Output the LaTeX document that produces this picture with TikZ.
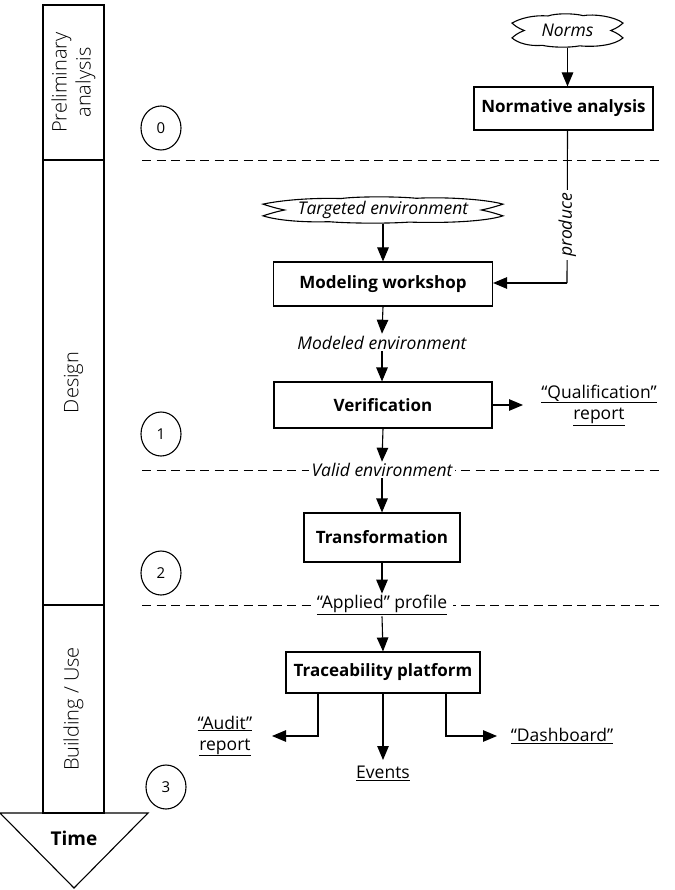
\documentclass[tikz,border=0pt]{standalone}
\usepackage{fontspec}
\setmainfont{Open Sans}
\newfontfamily\colfont{Open Sans Light}
\usetikzlibrary{shapes.geometric,arrows.meta,calc}
\newcommand\cloudoutline[4]{%
  \draw[shift={(#1)},xscale=#2,yscale=#3]
    (-#4,0) .. controls (-0.9,-0.15) and (-0.96,-0.33) .. (-1,-0.45)
    .. controls (-0.85,-0.75) and (-0.6,-0.95) .. (-0.35,-0.88)
    .. controls (-0.22,-1.05) and (0.12,-1.05) .. (0.28,-0.9)
    .. controls (0.48,-1.02) and (0.85,-0.85) .. (1,-0.45)
    .. controls (0.96,-0.33) and (0.9,-0.15) .. (#4,0)
    .. controls (0.9,0.15) and (0.96,0.33) .. (1,0.45)
    .. controls (0.85,0.9) and (0.5,1.02) .. (0.22,0.93)
    .. controls (0.02,1.06) and (-0.3,1.02) .. (-0.45,0.9)
    .. controls (-0.7,0.97) and (-0.9,0.75) .. (-1,0.45)
    .. controls (-0.96,0.33) and (-0.9,0.15) .. (-#4,0) -- cycle;}
\begin{document}
\begin{tikzpicture}[x=1pt,y=-1pt,
  line width=1.1pt,
  txt/.style={font=\fontsize{17.5}{21}\selectfont, align=center, inner sep=1pt},
  itx/.style={font=\fontsize{17.5}{21}\selectfont\itshape, align=center, inner sep=1pt},
  box/.style={draw, font=\fontsize{17}{20}\selectfont\bfseries, inner sep=0pt},
  arr/.style={-{Triangle[length=14pt,width=11.5pt]}},
  phase/.style={draw, minimum width=61pt, inner sep=0pt},
  phasetxt/.style={font=\colfont\fontsize{20}{24}\selectfont, align=center, rotate=90},
  num/.style={draw, ellipse, minimum width=40pt, minimum height=44pt, inner sep=0pt, font=\fontsize{15}{17}\selectfont},
  sep/.style={dash pattern=on 9pt off 5.5pt, line width=0.9pt},
  cloudtxt/.style={inner sep=0pt, font=\fontsize{17.5}{21}\selectfont\itshape}
]
\useasboundingbox (0,0) rectangle (674,890);

% ---- phase column ----
\node[phase, minimum height=155pt] (p0) at (73.5,82.5) {};
\node[phase, minimum height=445pt] (p1) at (73.5,382.5) {};
\node[phase, minimum height=208pt] (p2) at (73.5,709) {};
\node[phasetxt] (p0t) at (p0.center) {Preliminary\\analysis};
\node[phasetxt] (p1t) at (p1.center) {Design};
\node[phasetxt] (p2t) at (p2.center) {Building / Use};
\draw (0,813) -- (148,813) -- (74,888) -- cycle;
\node[font=\fontsize{19}{22}\selectfont\bfseries] (time) at (74,838) {Time};

% ---- step numbers ----
\node[num] (n0) at (161,128) {0};
\node[num] (n1) at (161,434) {1};
\node[num] (n2) at (161,573) {2};
\node[num] (n3) at (166,787) {3};

% ---- separators ----
\coordinate (s1a) at (142,160); \coordinate (s1b) at (660,160);
\coordinate (s2a) at (142,470); \coordinate (s2b) at (660,470);
\coordinate (s3a) at (142,605); \coordinate (s3b) at (660,605);
\draw[sep] (s1a) -- (s1b);
\draw[sep] (s2a) -- (s2b);
\draw[sep] (s3a) -- (s3b);

% ---- nodes ----
\node[cloudtxt, minimum width=111pt, minimum height=33pt] (norms) at (567.5,30.5) {Norms};
\cloudoutline{norms.center}{55.5}{16.5}{0.78}
\node[box, minimum width=179pt, minimum height=43pt] (na) at (563.5,108.5) {Normative analysis};
\node[cloudtxt, minimum width=240pt, minimum height=26pt] (te) at (383,210) {Targeted environment};
\cloudoutline{te.center}{120}{13}{0.82}
\node[box, minimum width=219pt, minimum height=44pt] (mw) at (383,284) {Modeling workshop};
\node[itx] (me) at (382,343) {Modeled environment};
\node[box, minimum width=218pt, minimum height=46pt] (ver) at (383,405) {Verification};
\node[txt] (qr) at (599,405) {\underline{“Qualification”}\\\underline{report}};
\node[itx, fill=white, inner xsep=3pt] (ve) at (382,470) {Valid environment};
\node[box, minimum width=156pt, minimum height=49pt] (tr) at (382,537.5) {Transformation};
\node[txt, fill=white, inner xsep=6pt] (ap) at (382,605) {\underline{“Applied” profile}};
\node[box, minimum width=194pt, minimum height=41pt] (tp) at (383,672.5) {Traceability platform};
\node[txt] (au) at (225,736) {\underline{“Audit”}\\\underline{report}};
\node[txt] (ev) at (383,773) {\underline{Events}};
\node[txt] (db) at (562,736) {\underline{“Dashboard”}};
\coordinate (bend) at (567,283);

% ---- connectors ----
\draw[arr] (norms.south) -- (norms.south |- na.north);
\draw (norms.south |- na.south) -- (bend) node[itx, fill=white, rotate=90, inner xsep=3pt, pos=0.62] (pr) {produce};
\draw[arr] (bend) -- (mw.east |- bend);
\draw[arr] (te.south) -- (te.south |- mw.north);
\draw[arr] (mw.south) -- ($(me.north)+(0,-1)$);
\draw[arr] (me.south) -- (me.south |- ver.north);
\draw[arr] (ver.east) -- (523,405);
\draw[arr] (ver.south) -- (ve.north);
\draw[arr] (ve.south) -- (ve.south |- tr.north);
\draw[arr] (tr.south) -- (ap.north);
\draw[arr] (ap.south) -- (tp.north);
\draw[arr] (tp.south -| 318,0) |- (272,736);
\draw[arr] (tp.south) -- (383,760);
\draw[arr] (tp.south -| 446,0) |- (497,736);
\end{tikzpicture}
\end{document}
